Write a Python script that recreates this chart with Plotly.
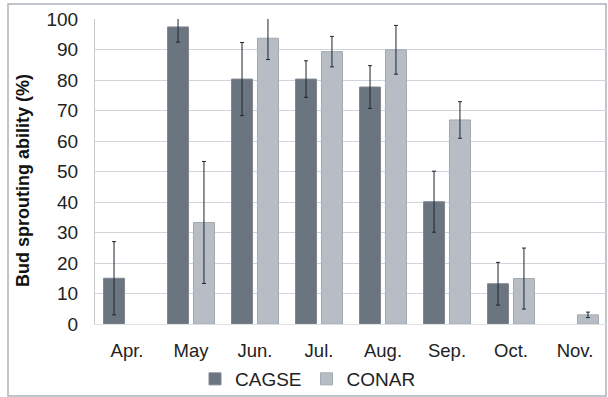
import plotly.graph_objects as go

months = ["Apr.", "May", "Jun.", "Jul.", "Aug.", "Sep.", "Oct.", "Nov."]
cagse = [15, 97.4, 80.3, 80.3, 77.7, 40.1, 13.2, None]
cagse_err = [12, 5, 12, 6, 7, 10, 7, None]
conar = [None, 33.3, 93.7, 89.3, 89.9, 66.9, 14.9, 3.0]
conar_err = [None, 20, 7, 5, 8, 6, 10, 0.9]
y_ticks = list(range(0, 101, 10))

err_style = dict(type="data", thickness=1, width=2, color="#1c2631", visible=True)

fig = go.Figure()
fig.add_trace(go.Bar(
    x=months, y=cagse, name="CAGSE",
    marker=dict(color="#6b7580", line=dict(color="#7f8891", width=1)),
    error_y=dict(array=cagse_err, **err_style),
))
fig.add_trace(go.Bar(
    x=months, y=conar, name="CONAR",
    marker=dict(color="#b6bdc4", line=dict(color="#a2aab1", width=1)),
    error_y=dict(array=conar_err, **err_style),
))

W, H = 608, 397
L, R, T, B = 95, 1, 19, 73
pw, ph = W - L - R, H - T - B

def px(xp):
    return (xp - L) / pw

def py(yp):
    return (H - B - yp) / ph

fig.update_layout(
    width=W, height=H,
    margin=dict(l=L, r=R, t=T, b=B, autoexpand=False),
    paper_bgcolor="white", plot_bgcolor="white",
    barmode="group", bargap=0.19, bargroupgap=0.19,
    font=dict(family="Liberation Sans, Arial, sans-serif", size=18, color="#222222"),
    showlegend=True,
    legend=dict(orientation="h", x=px(195), y=py(379), xanchor="left", yanchor="middle",
                font=dict(size=19), itemwidth=30, traceorder="normal", tracegroupgap=0,
                bgcolor="rgba(0,0,0,0)"),
    xaxis=dict(showgrid=False, showline=True, linecolor="#dde1e4", linewidth=1,
               ticks="", ticklabelstandoff=10, tickfont=dict(size=18.5), automargin=False),
    yaxis=dict(range=[0, 100], tickvals=y_ticks, showgrid=True, gridcolor="#d0d5da",
               gridwidth=1, showline=True, linecolor="#c3c9ce", linewidth=1,
               ticks="", ticklabelstandoff=12, tickfont=dict(size=19), zeroline=False,
               automargin=False),
    shapes=[dict(type="rect", xref="paper", yref="paper", x0=px(8), x1=px(606),
                 y0=py(396), y1=py(4), line=dict(color="#aab3bb", width=1.5),
                 fillcolor="rgba(0,0,0,0)", layer="below")],
    annotations=[dict(text="<b>Bud sprouting ability (%)</b>", textangle=-90,
                      xref="paper", yref="paper", x=px(23), y=py(181),
                      showarrow=False, font=dict(size=18, color="#111111"),
                      xanchor="center", yanchor="middle")],
)

fig.write_html("out.html", config={"displayModeBar": False},
               post_script="document.body.style.margin='0';document.body.style.overflow='hidden';")
